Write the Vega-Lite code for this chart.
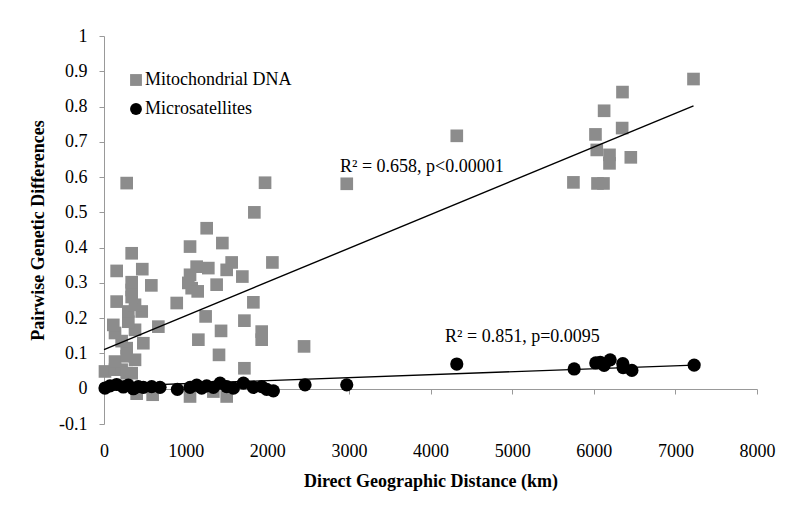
{
  "$schema": "https://vega.github.io/schema/vega-lite/v6.json",
  "width": 653,
  "height": 388,
  "autosize": {"type": "none"},
  "padding": {"left": 104, "top": 36, "right": 33, "bottom": 98},
  "background": "white",
  "config": {
    "font": "Liberation Serif",
    "view": {"stroke": null},
    "axis": {"grid": false, "domainColor": "#999999", "tickColor": "#999999", "labelColor": "#000000", "titleColor": "#000000", "labelFont": "Liberation Serif", "titleFont": "Liberation Serif", "labelFontSize": 18, "titleFontSize": 18, "titleFontWeight": "bold", "tickSize": 5, "labelOverlap": false}
  },
  "datasets": {
    "points": [
      {"series": "Mitochondrial DNA", "distance": 12, "diff": 0.049},
      {"series": "Mitochondrial DNA", "distance": 135, "diff": 0.054},
      {"series": "Mitochondrial DNA", "distance": 216, "diff": 0.054},
      {"series": "Mitochondrial DNA", "distance": 278, "diff": 0.044},
      {"series": "Mitochondrial DNA", "distance": 339, "diff": 0.044},
      {"series": "Mitochondrial DNA", "distance": 400, "diff": -0.014},
      {"series": "Mitochondrial DNA", "distance": 596, "diff": -0.017},
      {"series": "Mitochondrial DNA", "distance": 135, "diff": 0.077},
      {"series": "Mitochondrial DNA", "distance": 380, "diff": 0.082},
      {"series": "Mitochondrial DNA", "distance": 278, "diff": 0.092},
      {"series": "Mitochondrial DNA", "distance": 278, "diff": 0.115},
      {"series": "Mitochondrial DNA", "distance": 216, "diff": 0.135},
      {"series": "Mitochondrial DNA", "distance": 482, "diff": 0.129},
      {"series": "Mitochondrial DNA", "distance": 135, "diff": 0.158},
      {"series": "Mitochondrial DNA", "distance": 380, "diff": 0.167},
      {"series": "Mitochondrial DNA", "distance": 114, "diff": 0.181},
      {"series": "Mitochondrial DNA", "distance": 298, "diff": 0.19},
      {"series": "Mitochondrial DNA", "distance": 666, "diff": 0.176},
      {"series": "Mitochondrial DNA", "distance": 298, "diff": 0.219},
      {"series": "Mitochondrial DNA", "distance": 462, "diff": 0.219},
      {"series": "Mitochondrial DNA", "distance": 380, "diff": 0.238},
      {"series": "Mitochondrial DNA", "distance": 155, "diff": 0.247},
      {"series": "Mitochondrial DNA", "distance": 339, "diff": 0.26},
      {"series": "Mitochondrial DNA", "distance": 339, "diff": 0.28},
      {"series": "Mitochondrial DNA", "distance": 339, "diff": 0.302},
      {"series": "Mitochondrial DNA", "distance": 155, "diff": 0.334},
      {"series": "Mitochondrial DNA", "distance": 469, "diff": 0.339},
      {"series": "Mitochondrial DNA", "distance": 580, "diff": 0.293},
      {"series": "Mitochondrial DNA", "distance": 339, "diff": 0.384},
      {"series": "Mitochondrial DNA", "distance": 278, "diff": 0.583},
      {"series": "Mitochondrial DNA", "distance": 891, "diff": 0.243},
      {"series": "Mitochondrial DNA", "distance": 1054, "diff": 0.403},
      {"series": "Mitochondrial DNA", "distance": 1258, "diff": 0.455},
      {"series": "Mitochondrial DNA", "distance": 1450, "diff": 0.413},
      {"series": "Mitochondrial DNA", "distance": 1054, "diff": 0.323},
      {"series": "Mitochondrial DNA", "distance": 1033, "diff": 0.3},
      {"series": "Mitochondrial DNA", "distance": 1074, "diff": 0.285},
      {"series": "Mitochondrial DNA", "distance": 1135, "diff": 0.346},
      {"series": "Mitochondrial DNA", "distance": 1278, "diff": 0.342},
      {"series": "Mitochondrial DNA", "distance": 1148, "diff": 0.276},
      {"series": "Mitochondrial DNA", "distance": 1380, "diff": 0.295},
      {"series": "Mitochondrial DNA", "distance": 1503, "diff": 0.337},
      {"series": "Mitochondrial DNA", "distance": 1564, "diff": 0.358},
      {"series": "Mitochondrial DNA", "distance": 1695, "diff": 0.318},
      {"series": "Mitochondrial DNA", "distance": 1973, "diff": 0.584},
      {"series": "Mitochondrial DNA", "distance": 1842, "diff": 0.5},
      {"series": "Mitochondrial DNA", "distance": 2063, "diff": 0.358},
      {"series": "Mitochondrial DNA", "distance": 1830, "diff": 0.245},
      {"series": "Mitochondrial DNA", "distance": 1245, "diff": 0.205},
      {"series": "Mitochondrial DNA", "distance": 1720, "diff": 0.193},
      {"series": "Mitochondrial DNA", "distance": 1434, "diff": 0.164},
      {"series": "Mitochondrial DNA", "distance": 1932, "diff": 0.162},
      {"series": "Mitochondrial DNA", "distance": 1932, "diff": 0.139},
      {"series": "Mitochondrial DNA", "distance": 1156, "diff": 0.139},
      {"series": "Mitochondrial DNA", "distance": 1409, "diff": 0.096},
      {"series": "Mitochondrial DNA", "distance": 1720, "diff": 0.058},
      {"series": "Mitochondrial DNA", "distance": 1054, "diff": -0.022},
      {"series": "Mitochondrial DNA", "distance": 1340, "diff": -0.008},
      {"series": "Mitochondrial DNA", "distance": 1503, "diff": -0.022},
      {"series": "Mitochondrial DNA", "distance": 2451, "diff": 0.12},
      {"series": "Mitochondrial DNA", "distance": 2974, "diff": 0.581},
      {"series": "Mitochondrial DNA", "distance": 4322, "diff": 0.717},
      {"series": "Mitochondrial DNA", "distance": 5751, "diff": 0.585},
      {"series": "Mitochondrial DNA", "distance": 6046, "diff": 0.582},
      {"series": "Mitochondrial DNA", "distance": 6119, "diff": 0.582},
      {"series": "Mitochondrial DNA", "distance": 6021, "diff": 0.721},
      {"series": "Mitochondrial DNA", "distance": 6037, "diff": 0.677},
      {"series": "Mitochondrial DNA", "distance": 6127, "diff": 0.788},
      {"series": "Mitochondrial DNA", "distance": 6193, "diff": 0.663},
      {"series": "Mitochondrial DNA", "distance": 6193, "diff": 0.639},
      {"series": "Mitochondrial DNA", "distance": 6348, "diff": 0.739},
      {"series": "Mitochondrial DNA", "distance": 6352, "diff": 0.841},
      {"series": "Mitochondrial DNA", "distance": 6454, "diff": 0.656},
      {"series": "Mitochondrial DNA", "distance": 7222, "diff": 0.878},
      {"series": "Microsatellites", "distance": 12, "diff": 0.002},
      {"series": "Microsatellites", "distance": 74, "diff": 0.008},
      {"series": "Microsatellites", "distance": 155, "diff": 0.012},
      {"series": "Microsatellites", "distance": 237, "diff": 0.005},
      {"series": "Microsatellites", "distance": 298, "diff": 0.01},
      {"series": "Microsatellites", "distance": 359, "diff": 0.0},
      {"series": "Microsatellites", "distance": 420, "diff": 0.006},
      {"series": "Microsatellites", "distance": 482, "diff": 0.004},
      {"series": "Microsatellites", "distance": 584, "diff": 0.006},
      {"series": "Microsatellites", "distance": 686, "diff": 0.004},
      {"series": "Microsatellites", "distance": 899, "diff": -0.002},
      {"series": "Microsatellites", "distance": 1054, "diff": 0.004},
      {"series": "Microsatellites", "distance": 1136, "diff": 0.01},
      {"series": "Microsatellites", "distance": 1197, "diff": 0.002},
      {"series": "Microsatellites", "distance": 1258, "diff": 0.008},
      {"series": "Microsatellites", "distance": 1340, "diff": 0.004},
      {"series": "Microsatellites", "distance": 1422, "diff": 0.016},
      {"series": "Microsatellites", "distance": 1503, "diff": 0.006},
      {"series": "Microsatellites", "distance": 1585, "diff": 0.002},
      {"series": "Microsatellites", "distance": 1708, "diff": 0.016},
      {"series": "Microsatellites", "distance": 1830, "diff": 0.004},
      {"series": "Microsatellites", "distance": 1932, "diff": 0.006},
      {"series": "Microsatellites", "distance": 1993, "diff": -0.002},
      {"series": "Microsatellites", "distance": 2075, "diff": -0.006},
      {"series": "Microsatellites", "distance": 2463, "diff": 0.011},
      {"series": "Microsatellites", "distance": 2974, "diff": 0.011},
      {"series": "Microsatellites", "distance": 4322, "diff": 0.07},
      {"series": "Microsatellites", "distance": 5760, "diff": 0.056},
      {"series": "Microsatellites", "distance": 6025, "diff": 0.073},
      {"series": "Microsatellites", "distance": 6080, "diff": 0.075},
      {"series": "Microsatellites", "distance": 6127, "diff": 0.066},
      {"series": "Microsatellites", "distance": 6201, "diff": 0.082},
      {"series": "Microsatellites", "distance": 6356, "diff": 0.071},
      {"series": "Microsatellites", "distance": 6360, "diff": 0.06},
      {"series": "Microsatellites", "distance": 6467, "diff": 0.052},
      {"series": "Microsatellites", "distance": 7230, "diff": 0.067}
    ],
    "trends": [
      {"series": "Mitochondrial DNA", "distance": 0, "diff": 0.111},
      {"series": "Mitochondrial DNA", "distance": 7222, "diff": 0.802},
      {"series": "Microsatellites", "distance": 0, "diff": 0.006},
      {"series": "Microsatellites", "distance": 7230, "diff": 0.067}
    ],
    "notes": [
      {"label": "R² = 0.658, p<0.00001", "distance": 2892, "diff": 0.629},
      {"label": "R² = 0.851, p=0.0095", "distance": 4179, "diff": 0.148}
    ]
  },
  "layer": [
    {
      "data": {"name": "points"},
      "mark": {"type": "point", "filled": true, "opacity": 1, "strokeWidth": 0},
      "encoding": {
        "x": {
          "field": "distance", "type": "quantitative",
          "scale": {"domain": [0, 8000], "nice": false, "zero": false},
          "axis": {"title": "Direct Geographic Distance (km)", "values": [0, 1000, 2000, 3000, 4000, 5000, 6000, 7000, 8000], "tickCount": 20, "format": "d", "offset": -35, "labelPadding": 48, "titlePadding": 12, "labelFlush": false, "labelOverlap": false}
        },
        "y": {
          "field": "diff", "type": "quantitative",
          "scale": {"domain": [-0.1, 1], "nice": false, "zero": false},
          "axis": {"title": "Pairwise Genetic Differences", "values": [-0.1, 0, 0.1, 0.2, 0.3, 0.4, 0.5, 0.6, 0.7, 0.8, 0.9, 1], "tickCount": 20, "format": ".1~f", "labelExpr": "replace(datum.label, '\u2212', '-')", "labelPadding": 12, "labelOverlap": false, "titleX": -66, "titleY": 194, "titleAlign": "center", "titleBaseline": "middle", "titleAngle": -90, "labelFlush": false}
        },
        "shape": {
          "field": "series", "type": "nominal",
          "scale": {"domain": ["Mitochondrial DNA", "Microsatellites"], "range": ["square", "circle"]},
          "legend": {"title": null, "orient": "none", "legendX": 23, "legendY": 35, "symbolSize": 140, "labelFontSize": 18, "labelFont": "Liberation Serif", "labelColor": "#000000", "labelOffset": 0, "rowPadding": 11, "padding": 0, "symbolStrokeWidth": 0}
        },
        "color": {
          "field": "series", "type": "nominal",
          "scale": {"domain": ["Mitochondrial DNA", "Microsatellites"], "range": ["#8c8c8c", "#000000"]},
          "legend": {"title": null, "orient": "none", "legendX": 23, "legendY": 35, "symbolSize": 140, "labelFontSize": 18, "labelFont": "Liberation Serif", "labelColor": "#000000", "labelOffset": 0, "rowPadding": 11, "padding": 0, "symbolStrokeWidth": 0}
        },
        "size": {"condition": {"test": "datum.series === 'Mitochondrial DNA'", "value": 160}, "value": 175}
      }
    },
    {
      "data": {"name": "trends"},
      "mark": {"type": "line", "color": "#000000", "strokeWidth": 1.4},
      "encoding": {
        "x": {"field": "distance", "type": "quantitative"},
        "y": {"field": "diff", "type": "quantitative"},
        "detail": {"field": "series", "type": "nominal"}
      }
    },
    {
      "data": {"name": "notes"},
      "mark": {"type": "text", "align": "left", "baseline": "middle", "fontSize": 18, "font": "Liberation Serif", "color": "#000000"},
      "encoding": {
        "x": {"field": "distance", "type": "quantitative"},
        "y": {"field": "diff", "type": "quantitative"},
        "text": {"field": "label"}
      }
    }
  ]
}
